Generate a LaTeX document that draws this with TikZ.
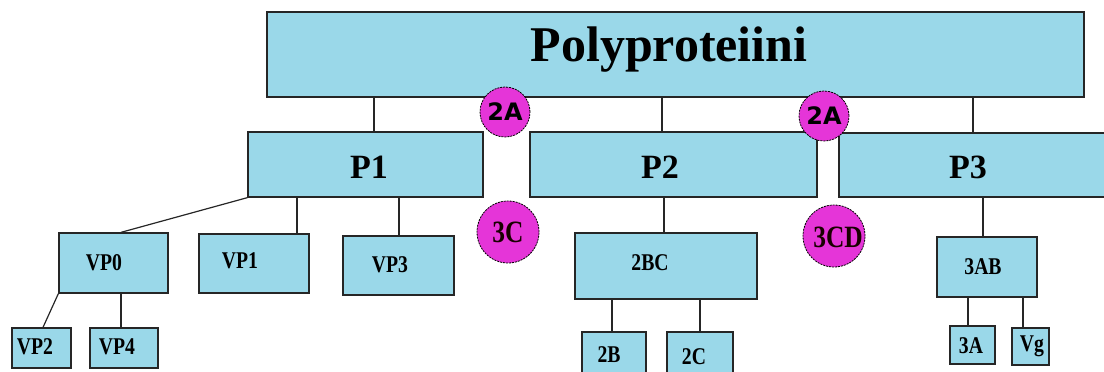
\documentclass[tikz,border=0pt]{standalone}
\usepackage{fontspec}
\setmainfont{Liberation Serif}
\newfontfamily\labfont[FakeStretch=0.82]{Liberation Serif}
\newfontfamily\cutfont{DejaVu Sans}
\usetikzlibrary{fit}
\definecolor{boxblue}{RGB}{154,216,233}
\definecolor{cutmag}{RGB}{229,53,216}
\begin{document}
\begin{tikzpicture}[x=1pt,y=-1pt,
  box/.style={draw=black!85, line width=1.3pt, fill=boxblue, inner sep=0pt},
  link/.style={draw=black!85, line width=1.2pt},
  site/.style={circle, draw=black, line width=0.8pt, dash pattern=on 2pt off 1pt,
               fill=cutmag, inner sep=0pt},
  big/.style={font=\bfseries\fontsize{50}{55}\selectfont},
  mid/.style={font=\bfseries\fontsize{34}{38}\selectfont},
  small/.style={font=\labfont\bfseries\fontsize{24}{26}\selectfont},
  sitetxt/.style={font=\cutfont\bfseries\fontsize{24}{26}\selectfont},
  sitetxtb/.style={font=\labfont\bfseries\fontsize{31}{34}\selectfont, text=black!90!red},
]
\useasboundingbox (0,0) rectangle (1104,372);
\clip (0,0) rectangle (1104,372);

% boxes
\node[box, fit={(267,12) (1084,97)}] (top) {};
\node[box, fit={(248,132) (483,197)}] (p1) {};
\node[box, fit={(530,132) (817,197)}] (p2) {};
\node[box, fit={(839,133) (1120,197)}] (p3) {};
\node[box, fit={(59,233) (168,293)}] (vp0) {};
\node[box, fit={(199,234) (309,293)}] (vp1) {};
\node[box, fit={(343,236) (454,295)}] (vp3) {};
\node[box, fit={(575,233) (757,299)}] (bc) {};
\node[box, fit={(937,237) (1037,297)}] (ab) {};
\node[box, fit={(12,328) (71,368)}] (vp2) {};
\node[box, fit={(90,328) (158,368)}] (vp4) {};
\node[box, fit={(582,332) (646,385)}] (b2) {};
\node[box, fit={(667,332) (733,385)}] (c2) {};
\node[box, fit={(950,326) (995,364)}] (a3) {};
\node[box, fit={(1012,328) (1049,365)}] (vg) {};

% labels
\node[big] (ttop) at (669,50) {Polyproteiini};
\node[mid] (tp1) at (369,167) {P1};
\node[mid] (tp2) at (660,167) {P2};
\node[mid] (tp3) at (968,167) {P3};
\node[small] (tvp0) at (104,263) {VP0};
\node[small] (tvp1) at (240,261) {VP1};
\node[small] (tvp3) at (390,265) {VP3};
\node[small] (tbc) at (650,263) {2BC};
\node[small] (tab) at (983,267) {3AB};
\node[small] (tvp2) at (35,347) {VP2};
\node[small] (tvp4) at (117,347) {VP4};
\node[small] (tb2) at (609,355) {2B};
\node[small] (tc2) at (694,357) {2C};
\node[small] (ta3) at (971,346) {3A};
\node[small] (tvg) at (1032,346) {Vg};

% connectors
\draw[link] (374,0 |- top.south) -- (374,0 |- p1.north);
\draw[link] (662,0 |- top.south) -- (662,0 |- p2.north);
\draw[link] (973,0 |- top.south) -- (973,0 |- p3.north);
\draw[link] (p1.south west) -- (121,0 |- vp0.north);
\draw[link] (297,0 |- p1.south) -- (297,0 |- vp1.north);
\draw[link] (399,0 |- p1.south) -- (399,0 |- vp3.north);
\draw[link] (664,0 |- p2.south) -- (664,0 |- bc.north);
\draw[link] (983,0 |- p3.south) -- (983,0 |- ab.north);
\draw[link] (vp0.south west) -- (43,0 |- vp2.north);
\draw[link] (121,0 |- vp0.south) -- (121,0 |- vp4.north);
\draw[link] (612,0 |- bc.south) -- (612,0 |- b2.north);
\draw[link] (700,0 |- bc.south) -- (700,0 |- c2.north);
\draw[link] (968,0 |- ab.south) -- (968,0 |- a3.north);
\draw[link] (1023,0 |- ab.south) -- (1023,0 |- vg.north);

% cleavage sites
\node[site, minimum size=50pt] (s2a1) at (505,112) {};
\node[sitetxt] (t2a1) at (505,112) {2A};
\node[site, minimum size=50pt] (s2a2) at (824,116) {};
\node[sitetxt] (t2a2) at (824,116) {2A};
\node[site, minimum size=62pt] (s3c) at (508,232) {};
\node[sitetxtb] (t3c) at (508,232) {3C};
\node[site, minimum size=62pt] (s3cd) at (834,236) {};
\node[sitetxtb] (t3cd) at (838,237) {3CD};
\end{tikzpicture}
\end{document}
